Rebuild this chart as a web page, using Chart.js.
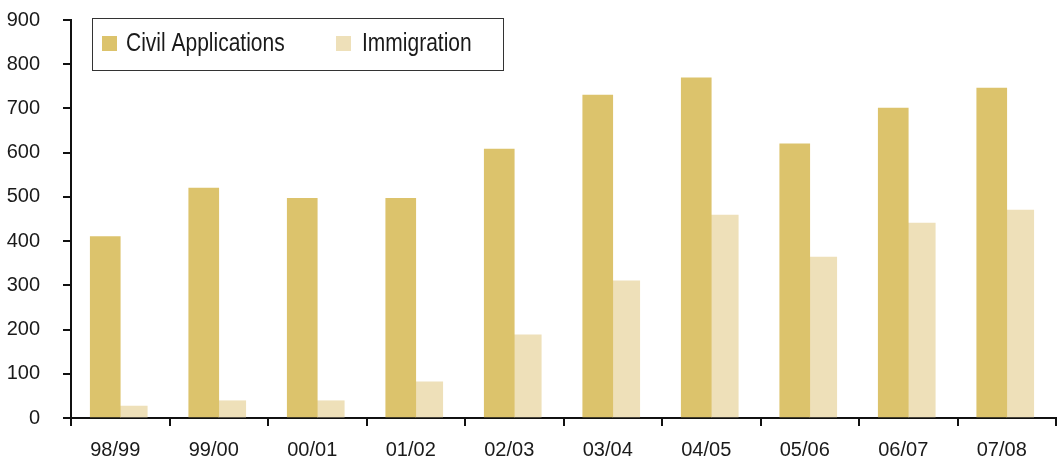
<!DOCTYPE html>
<html>
<head>
<meta charset="utf-8">
<script src="https://cdn.jsdelivr.net/npm/chart.js@4/dist/chart.umd.min.js"></script>
<style>
  html, body { margin: 0; padding: 0; background: #ffffff; }
  #wrap { position: relative; width: 1057px; height: 462px; }
</style>
</head>
<body>
<div id="wrap"><canvas id="chart"></canvas></div>
<script>
// Financial years
const years = ['98/99', '99/00', '00/01', '01/02', '02/03', '03/04', '04/05', '05/06', '06/07', '07/08'];
// Applications received per year
const civilApplications = [410, 520, 497, 497, 608, 730, 769, 620, 701, 746];
const immigration = [27, 39, 39, 82, 188, 310, 459, 364, 441, 470];
// Value axis
const yTicks = [0, 100, 200, 300, 400, 500, 600, 700, 800, 900];

const FONT = '"Liberation Sans", Arial, sans-serif';

// Boxed legend drawn inside the plot, top-left; text is horizontally condensed
const boxedLegend = {
  id: 'boxedLegend',
  afterDraw(chart) {
    const ctx = chart.ctx;
    const box = { x: 92.5, y: 18.5, w: 411, h: 52 };
    ctx.save();
    ctx.fillStyle = '#ffffff';
    ctx.fillRect(box.x, box.y, box.w, box.h);
    ctx.strokeStyle = '#333333';
    ctx.lineWidth = 1;
    ctx.strokeRect(box.x, box.y, box.w, box.h);
    const items = [{ sx: 102, tx: 126 }, { sx: 336, tx: 362 }];
    chart.data.datasets.forEach((ds, i) => {
      const it = items[i];
      ctx.fillStyle = ds.backgroundColor;
      ctx.fillRect(it.sx, 36, 15, 15);
      ctx.save();
      ctx.translate(it.tx, 44);
      ctx.scale(0.84, 1);
      ctx.font = '25px ' + FONT;
      ctx.textBaseline = 'middle';
      ctx.textAlign = 'left';
      ctx.fillStyle = '#1a1a1a';
      ctx.fillText(ds.label, 0, 0);
      ctx.restore();
    });
    ctx.restore();
  }
};

new Chart(document.getElementById('chart'), {
  type: 'bar',
  data: {
    labels: years,
    datasets: [
      { label: 'Civil Applications', data: civilApplications, backgroundColor: '#DCC36C', barThickness: 30 },
      { label: 'Immigration', data: immigration, backgroundColor: '#EEE0B9', barThickness: 27 }
    ]
  },
  options: {
    responsive: true,
    maintainAspectRatio: false,
    animation: false,
    layout: { padding: { top: 20, right: 1, left: 0, bottom: 0 } },
    plugins: {
      legend: { display: false },
      tooltip: { enabled: false }
    },
    scales: {
      x: {
        grid: { display: true, drawOnChartArea: false, drawTicks: true, tickLength: 8, color: '#111111', lineWidth: 2, offset: true },
        border: { display: true, color: '#111111', width: 2 },
        ticks: { color: '#1a1a1a', font: { family: FONT, size: 20 }, padding: 12, labelOffset: -5, maxRotation: 0, autoSkip: false },
        afterFit(scale) { scale.height = 44; }
      },
      y: {
        min: 0,
        max: 900,
        afterBuildTicks(scale) { scale.ticks = yTicks.map(v => ({ value: v })); },
        grid: { display: true, drawOnChartArea: false, drawTicks: true, tickLength: 8, color: '#111111', lineWidth: 2 },
        border: { display: true, color: '#111111', width: 2 },
        ticks: { color: '#1a1a1a', font: { family: FONT, size: 20 }, padding: 23 },
        afterFit(scale) {
          scale.width = 71;
          scale.paddingTop = 10;
          scale.paddingBottom = 10;
        }
      }
    }
  },
  plugins: [boxedLegend]
});
</script>
</body>
</html>
